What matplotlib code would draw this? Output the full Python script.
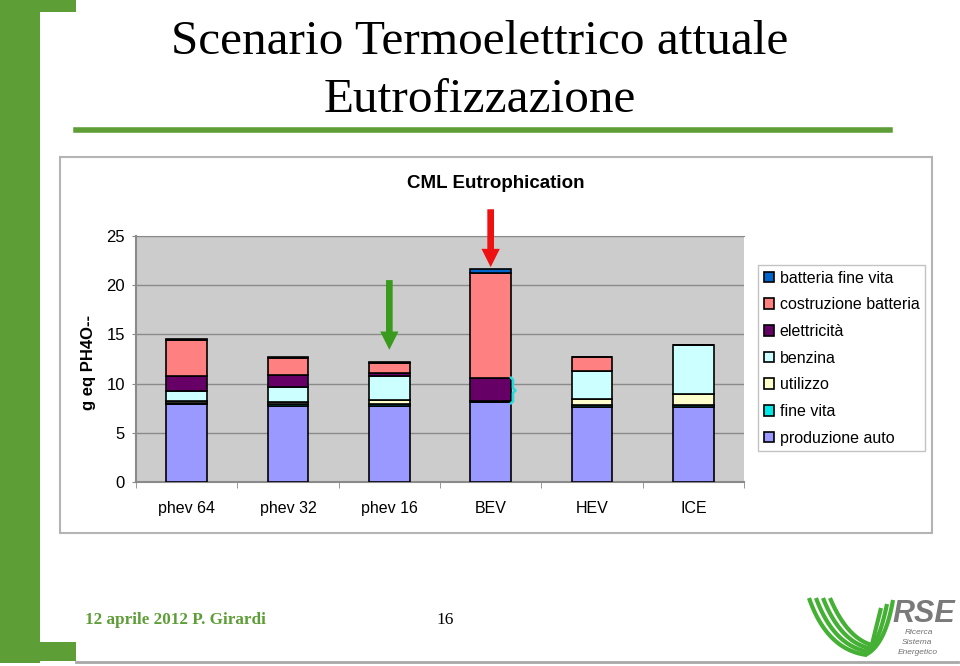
import matplotlib.pyplot as plt
from matplotlib.patches import Rectangle
from matplotlib.lines import Line2D
import numpy as np

plt.rcParams["font.family"] = ["Liberation Sans", "DejaVu Sans"]
plt.rcParams["font.size"] = 11.0

GREEN = "#5E9E36"

categories = ["phev 64", "phev 32", "phev 16", "BEV", "HEV", "ICE"]

# stacked from bottom to top
produzione_auto = [7.9, 7.75, 7.75, 8.15, 7.65, 7.65]
fine_vita = [0.15, 0.15, 0.15, 0.1, 0.15, 0.15]
utilizzo = [0.15, 0.2, 0.45, 0.0, 0.6, 1.1]
benzina = [1.0, 1.55, 2.45, 0.0, 2.85, 5.05]
elettricita = [1.6, 1.2, 0.25, 2.3, 0.0, 0.0]
costruzione_batteria = [3.6, 1.8, 1.05, 10.7, 1.45, 0.0]
batteria_fine_vita = [0.1, 0.1, 0.05, 0.4, 0.0, 0.0]

series = [
    ("produzione auto", produzione_auto, "#9999FF"),
    ("fine vita", fine_vita, "#00E8E8"),
    ("utilizzo", utilizzo, "#FFFFCC"),
    ("benzina", benzina, "#CCFFFF"),
    ("elettricità", elettricita, "#660066"),
    ("costruzione batteria", costruzione_batteria, "#FF8080"),
    ("batteria fine vita", batteria_fine_vita, "#0066CC"),
]

fig = plt.figure(figsize=(9.6, 6.66), dpi=100)

# slide decoration
fig.patches.append(Rectangle((0, 0.005), 40 / 960, 0.995, transform=fig.transFigure,
                             fc=GREEN, ec="none", zorder=-2))
fig.patches.append(Rectangle((0, 1 - 12 / 666), 76 / 960, 12 / 666, transform=fig.transFigure,
                             fc=GREEN, ec="none", zorder=-2))
fig.patches.append(Rectangle((0, 5 / 666), 76 / 960, 19 / 666, transform=fig.transFigure,
                             fc=GREEN, ec="none", zorder=-2))
fig.lines.append(Line2D([76 / 960, 890 / 960], [1 - 130 / 666] * 2, transform=fig.transFigure,
                        color=GREEN, lw=4))
fig.lines.append(Line2D([76 / 960, 958 / 960], [4 / 666] * 2, transform=fig.transFigure,
                        color="#A8A8A8", lw=2))

fig.text(0.5, 1 - 42 / 666, "Scenario Termoelettrico attuale", ha="center", va="center",
         family="Liberation Serif", fontsize=35.5)
fig.text(0.5, 1 - 100 / 666, "Eutrofizzazione", ha="center", va="center",
         family="Liberation Serif", fontsize=35.5)

# chart frame
fig.patches.append(Rectangle((60 / 960, 1 - 533 / 666), 872 / 960, 376 / 666,
                             transform=fig.transFigure, fc="white", ec="#B4B4B4", lw=1.5, zorder=-1))
fig.text(496 / 960, 1 - 184 / 666, "CML Eutrophication", ha="center", va="center",
         fontweight="bold", fontsize=13.5)

ax = fig.add_axes([136 / 960, 1 - 482 / 666, 608 / 960, 246 / 666])
ax.set_facecolor("#CCCCCC")

x = np.arange(len(categories))
bottom = np.zeros(len(categories))
handles = []
for name, vals, color in series:
    b = ax.bar(x, vals, 0.4, bottom=bottom, color=color, edgecolor="black", lw=1.2,
               label=name, zorder=3)
    handles.append(b)
    bottom += np.array(vals)

ax.set_xlim(-0.5, len(categories) - 0.5)
ax.set_ylim(0, 25)
ax.set_yticks(range(0, 26, 5))
ax.set_xticks(x)
ax.set_xticklabels(categories, fontsize=11.5)
ax.set_xticks(np.arange(-0.5, len(categories), 1.0), minor=True)
ax.tick_params(axis="x", which="major", length=0, pad=14)
ax.tick_params(axis="x", which="minor", length=4, color="#888888", direction="out")
ax.tick_params(axis="y", length=3, color="#888888", labelsize=12, pad=5)
ax.grid(axis="y", color="#8A8A8A", lw=1, zorder=1)
ax.spines["right"].set_visible(False)
for s in ["top", "left", "bottom"]:
    ax.spines[s].set_color("#8A8A8A")
ax.spines["left"].set_linewidth(1.5)
ax.spines["bottom"].set_linewidth(1.5)

fig.text(88 / 960, 1 - 362 / 666, "g eq PH4O--", rotation=90, ha="center", va="center",
         fontweight="bold", fontsize=12)

# arrows
ax.annotate("", xy=(2, bottom[2] + 1.0), xytext=(2, 20.8), annotation_clip=False,
            arrowprops=dict(arrowstyle="simple,head_length=1.1,head_width=1.1,tail_width=0.4",
                            mutation_scale=12, color="#3A9A1E", lw=0))
ax.annotate("", xy=(3, bottom[3] - 0.1), xytext=(3, 28.0), annotation_clip=False,
            arrowprops=dict(arrowstyle="simple,head_length=1.1,head_width=1.1,tail_width=0.4",
                            mutation_scale=12, color="#EE1111", lw=0))
# cyan brace beside the BEV electricity block
bx = [3.2, 3.22, 3.22, 3.245, 3.22, 3.22, 3.2]
by = [10.6, 10.4, 9.55, 9.3, 9.05, 8.2, 8.0]
ax.plot(bx, by, color="#22DDDD", lw=1.8, zorder=4, solid_joinstyle="round")

leg = ax.legend(handles[::-1], [s[0] for s in series][::-1], loc="upper left",
                bbox_to_anchor=(758 / 960, 1 - 265 / 666), bbox_transform=fig.transFigure,
                fontsize=11.5, frameon=True, fancybox=False, edgecolor="#B4B4B4",
                handlelength=0.65, handleheight=0.65, handletextpad=0.35,
                labelspacing=0.73, borderpad=0.35, borderaxespad=0)
leg.get_frame().set_linewidth(1.0)

# footer
fig.text(85 / 960, 1 - 620 / 666, "12 aprile 2012 P. Girardi", color=GREEN, ha="left", va="center",
         family="Liberation Serif", fontweight="bold", fontsize=12.3)
fig.text(445 / 960, 1 - 620 / 666, "16", ha="center", va="center",
         family="Liberation Serif", fontsize=12.5)

# RSE logo
lax = fig.add_axes([805 / 960, 8 / 666, 150 / 960, 62 / 666])
lax.set_xlim(0, 150)
lax.set_ylim(0, 62)
lax.axis("off")
t = np.linspace(0, 1, 60)
for k in range(4):
    x0 = 4 + k * 7
    xs = (1 - t) ** 2 * x0 + 2 * (1 - t) * t * (x0 + 18) + t ** 2 * (62 + k * 3)
    ys = (1 - t) ** 2 * 60 + 2 * (1 - t) * t * (8 + k * 3) + t ** 2 * (3 + k * 3)
    lax.plot(xs, ys, color="#44B034", lw=3.0, solid_capstyle="butt")
for k in range(3):
    x1 = 88 - k * 6
    xs = (1 - t) ** 2 * (60 + k * 3) + 2 * (1 - t) * t * (x1 - 8) + t ** 2 * x1
    ys = (1 - t) ** 2 * (3 + k * 3) + 2 * (1 - t) * t * (12 + k * 3) + t ** 2 * (58 - k * 4)
    lax.plot(xs, ys, color="#44B034", lw=3.0, solid_capstyle="butt")
lax.text(87, 44, "RSE", color="#7A7A7A", fontsize=22, fontweight="bold", style="italic",
         ha="left", va="center")
lax.text(100, 25, "Ricerca", color="#707070", fontsize=6, style="italic", ha="left", va="center")
lax.text(97, 15, "Sistema", color="#707070", fontsize=6, style="italic", ha="left", va="center")
lax.text(93, 5, "Energetico", color="#707070", fontsize=6, style="italic", ha="left", va="center")

fig.savefig("out.png", dpi=100)
